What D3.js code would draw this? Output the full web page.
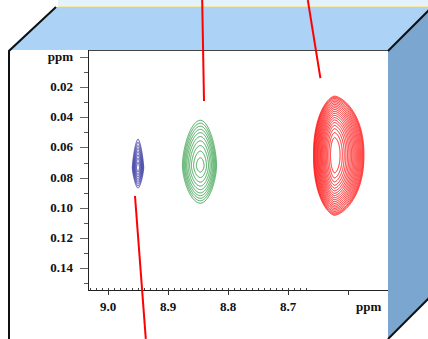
<!DOCTYPE html>
<html><head><meta charset="utf-8">
<script src="https://cdn.jsdelivr.net/npm/d3@7"></script>
<style>html,body{margin:0;padding:0;background:#fff;overflow:hidden}svg{display:block}</style>
</head><body>
<script>
// ---- data ----
const xTickValues = [9.0, 8.9, 8.8, 8.7, 8.6];
const xTickLabels = ["9.0", "8.9", "8.8", "8.7", ""];
const yTickValues = [0.00, 0.02, 0.04, 0.06, 0.08, 0.10, 0.12, 0.14];
const yTickLabels = ["ppm", "0.02", "0.04", "0.06", "0.08", "0.10", "0.12", "0.14"];
const xUnitLabel = "ppm";

const peakNames   = ["blue", "green", "red"];
const peakColors  = ["#3535a0", "#2a9a40", "#ff0000"];
const peakX       = [8.950, 8.846, 8.6225];   // ppm (horizontal)
const peakY       = [0.0735, 0.0720, 0.0650]; // ppm (vertical)
const halfLeft    = [0.0095, 0.0300, 0.0350];
const halfRight   = [0.0095, 0.0270, 0.0490];
const halfTop     = [0.0190, 0.0300, 0.0390];
const halfBottom  = [0.0135, 0.0250, 0.0400];
const shapeP      = [1.6, 1.9, 1.6];
const shapeQ      = [1.3, 1.6, 2.2];
const blueLevels  = [0.12, 0.24, 0.36, 0.48, 0.60, 0.72, 0.86, 1.0];
const greenLevels = [0.06, 0.16, 0.27, 0.38, 0.49, 0.60, 0.70, 0.80, 0.90, 1.0];
const redLevels   = [0.07, 0.12, 0.17, 0.22, 0.27, 0.32, 0.37, 0.42, 0.47, 0.52, 0.57, 0.62, 0.67, 0.72, 0.77, 0.82, 0.87, 0.92, 0.96, 1.0];
const peakLevels  = [blueLevels, greenLevels, redLevels];

// annotation pointer lines (ppm coordinates of their ends)
const pointerX1 = [8.843, 8.667, 8.955];
const pointerY1 = [-0.0378, -0.0378, 0.0922];
const pointerX2 = [8.840, 8.646, 8.937];
const pointerY2 = [0.0292, 0.0140, 0.1870];

// ---- layout ----
const W = 428, H = 339;
const svg = d3.select("body").append("svg").attr("width", W).attr("height", H);

const x = d3.scaleLinear().domain([9.0, 8.6]).range([108, 348]);
const y = d3.scaleLinear().domain([0, 0.14]).range([57, 268]);
const plotL = 88, plotR = 388, plotT = 50, plotB = 290;

// background strip at very top
svg.append("rect").attr("x", 58).attr("y", 0).attr("width", W - 58).attr("height", 7).attr("fill", "#e4f2fb");
svg.append("line").attr("x1", 58).attr("x2", W).attr("y1", 6.5).attr("y2", 6.5).attr("stroke", "#f3eaa8").attr("stroke-width", 1);

// top face
svg.append("polygon").attr("points", "8,50 55,7 428,7 428,11 388,50").attr("fill", "#acd3f6");
// front face
svg.append("rect").attr("x", 8).attr("y", 50).attr("width", 380).attr("height", H - 50).attr("fill", "#ffffff");

const font = "'Liberation Serif', 'Times New Roman', serif";

// ---- contours ----
const step = 0.5;
const gx0 = plotL, gy0 = plotT;
const gw = Math.round((plotR - plotL) / step), gh = Math.round((plotB - plotT) / step);
const contourG = svg.append("g");
peakNames.forEach((name, i) => {
  const vals = new Float64Array(gw * gh);
  for (let j = 0; j < gh; j++) {
    const py = gy0 + (j + 0.5) * step;
    const vy = y.invert(py);
    const dy = vy - peakY[i];
    const ay = dy < 0 ? halfTop[i] : halfBottom[i];
    const ty = Math.pow(Math.abs(dy) / ay, shapeQ[i]);
    for (let k = 0; k < gw; k++) {
      const px = gx0 + (k + 0.5) * step;
      const vx = x.invert(px);
      const dx = vx - peakX[i];
      const ax = dx > 0 ? halfLeft[i] : halfRight[i];
      const g = Math.pow(Math.abs(dx) / ax, shapeP[i]) + ty;
      vals[j * gw + k] = -Math.min(g, 50);
    }
  }
  const contours = d3.contours().size([gw, gh]).thresholds(peakLevels[i].map(v => -v))(vals);
  const path = d3.geoPath(d3.geoTransform({
    point(px, py) { this.stream.point(gx0 + px * step, gy0 + py * step); }
  }));
  contourG.append("g").attr("class", "peak-" + name)
    .selectAll("path").data(contours).join("path")
    .attr("d", path).attr("fill", "none")
    .attr("stroke", peakColors[i]).attr("stroke-width", 0.9).attr("stroke-linejoin", "round");
});

// ---- axes ----
const axG = svg.append("g").attr("stroke", "#333").attr("shape-rendering", "crispEdges");
axG.append("line").attr("x1", plotL).attr("x2", plotR).attr("y1", plotT + 0.5).attr("y2", plotT + 0.5).attr("stroke", "#444");
axG.append("line").attr("x1", plotL + 0.5).attr("x2", plotL + 0.5).attr("y1", plotT).attr("y2", plotB).attr("stroke", "#222");
axG.append("line").attr("x1", plotL).attr("x2", plotR).attr("y1", plotB + 0.5).attr("y2", plotB + 0.5).attr("stroke", "#222");

// x minor ticks (every 0.01) and major ticks
const xMinor = d3.range(0, 37).map(i => +(9.03 - i * 0.01).toFixed(2)).filter(v => x(v) > plotL + 1 && x(v) <= plotR);
axG.selectAll(".xminor").data(xMinor).join("line")
  .attr("x1", d => Math.round(x(d)) + 0.5).attr("x2", d => Math.round(x(d)) + 0.5)
  .attr("y1", plotB - 2).attr("y2", plotB).attr("stroke", "#444");
axG.selectAll(".xmajor").data(xTickValues).join("line")
  .attr("x1", d => Math.round(x(d)) + 0.5).attr("x2", d => Math.round(x(d)) + 0.5)
  .attr("y1", plotB).attr("y2", plotB + 5).attr("stroke", "#333");
svg.selectAll(".xlab").data(xTickValues).join("text")
  .attr("x", d => x(d)).attr("y", 311).attr("text-anchor", "middle")
  .attr("font-family", font).attr("font-weight", "bold").attr("font-size", 13).attr("fill", "#111")
  .text((d, i) => xTickLabels[i]);
svg.append("text").attr("x", 356).attr("y", 311)
  .attr("font-family", font).attr("font-weight", "bold").attr("font-size", 13).attr("fill", "#111")
  .text(xUnitLabel);

// y minor ticks and major ticks
const yMinor = [0.01, 0.03, 0.05, 0.07, 0.09, 0.11, 0.13, 0.15];
axG.selectAll(".yminor").data(yMinor).join("line")
  .attr("x1", plotL - 4).attr("x2", plotL)
  .attr("y1", d => Math.round(y(d)) + 0.5).attr("y2", d => Math.round(y(d)) + 0.5).attr("stroke", "#555");
axG.selectAll(".ymajor").data(yTickValues).join("line")
  .attr("x1", plotL - 8).attr("x2", plotL)
  .attr("y1", d => Math.round(y(d)) + 0.5).attr("y2", d => Math.round(y(d)) + 0.5).attr("stroke", "#666");
svg.selectAll(".ylab").data(yTickValues).join("text")
  .attr("x", 73).attr("y", d => y(d) + 4).attr("text-anchor", "end")
  .attr("font-family", font).attr("font-weight", "bold").attr("font-size", 13).attr("fill", "#111")
  .text((d, i) => yTickLabels[i]);

// right face (covers the end of the x axis)
svg.append("polygon").attr("points", "388,50 428,11 428,298 388,338").attr("fill", "#7ba6cf");

// box edges
const edge = svg.append("g").attr("stroke", "#111").attr("fill", "none").attr("stroke-width", 2);
edge.append("polyline").attr("points", "9,339 9,51 56,7");
edge.append("line").attr("x1", 388).attr("y1", 51).attr("x2", 429).attr("y2", 10);
edge.append("line").attr("x1", 388).attr("y1", 339).attr("x2", 429).attr("y2", 298);

// red pointer lines
svg.selectAll(".pointer").data(pointerX1).join("line")
  .attr("x1", (d, i) => x(pointerX1[i])).attr("y1", (d, i) => y(pointerY1[i]))
  .attr("x2", (d, i) => x(pointerX2[i])).attr("y2", (d, i) => y(pointerY2[i]))
  .attr("stroke", "#ff0000").attr("stroke-width", 2);
</script>
</body></html>
